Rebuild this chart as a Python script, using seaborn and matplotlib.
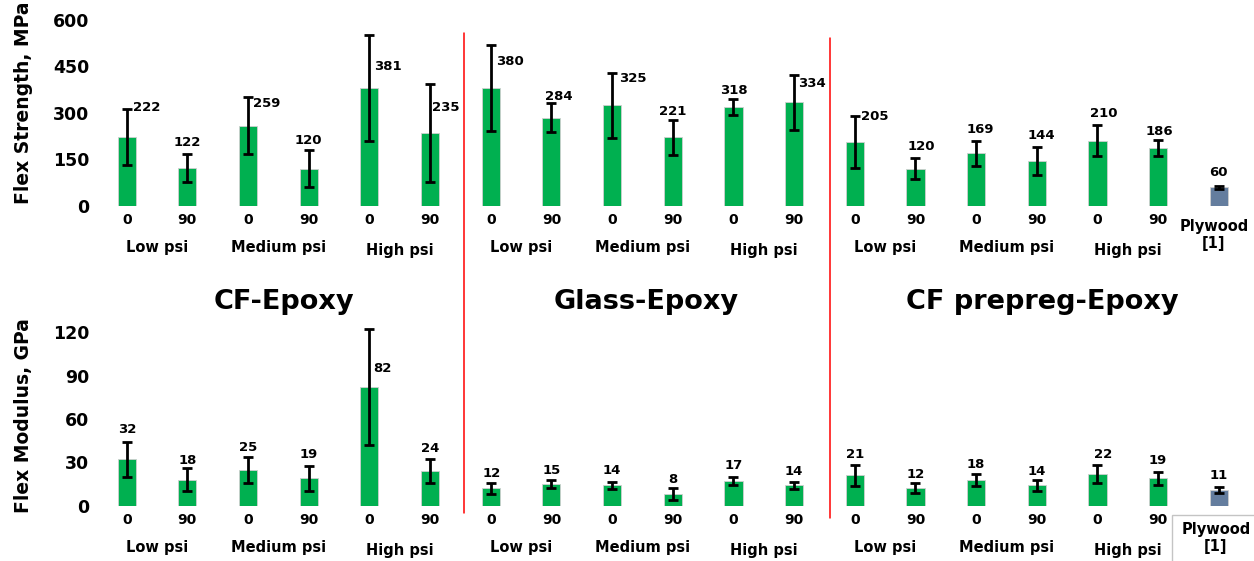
import numpy as np
import pandas as pd
import matplotlib
matplotlib.use("Agg")
import matplotlib.pyplot as plt
import seaborn as sns
from matplotlib.lines import Line2D
from matplotlib.patches import Rectangle

# ---- data -------------------------------------------------------------
systems = ["CF-Epoxy", "Glass-Epoxy", "CF prepreg-Epoxy"]
pressures = ["Low psi", "Medium psi", "High psi"]
angles = ["0", "90"]
reference_name = "Plywood\n[1]"

cf_strength = [222, 122, 259, 120, 381, 235]
cf_strength_sd = [90, 44, 92, 60, 172, 158]
glass_strength = [380, 284, 325, 221, 318, 334]
glass_strength_sd = [140, 47, 105, 56, 26, 88]
prepreg_strength = [205, 120, 169, 144, 210, 186]
prepreg_strength_sd = [84, 35, 41, 46, 51, 25]
plywood_strength = 60
plywood_strength_sd = 5

cf_modulus = [32, 18, 25, 19, 82, 24]
cf_modulus_sd = [12, 8, 9, 8.5, 40, 8]
glass_modulus = [12, 15, 14, 8, 17, 14]
glass_modulus_sd = [4, 2.5, 2.5, 4, 2.7, 2.3]
prepreg_modulus = [21, 12, 18, 14, 22, 19]
prepreg_modulus_sd = [7.4, 3.4, 4.2, 3.6, 6, 4.5]
plywood_modulus = 11
plywood_modulus_sd = 2

# ---- layout / style ---------------------------------------------------
# value-label nudges (pixels, relative to the top of each error bar)
strength_nudge = [(20, 2), (0, 12), (19, -6), (0, 9), (18, -32), (16, -23),
                  (19, -17), (7, 7), (21, -6), (0, 8), (0, 9), (18, -8),
                  (20, 0), (6, 11), (4, 11), (5, 11), (6, 11), (1, 9), (0, 13)]
modulus_nudge = [(1, 13), (0, 8), (0, 9), (0, 11), (13, -39), (0, 11),
                 (1, 9), (0, 10), (0, 11), (0, 9), (0, 12), (0, 11),
                 (0, 10), (0, 9), (0, 9), (0, 9), (6, 11), (0, 11), (0, 11)]
pressure_drop = [0, 0, 3]

GREEN = "#00B050"
SLATE = "#647D9E"
W, H = 1254, 561

sns.set_theme(style="white")
plt.rcParams["font.family"] = ["DejaVu Sans"]
plt.rcParams["font.weight"] = "bold"
plt.rcParams["axes.labelweight"] = "bold"
plt.rcParams["text.color"] = "black"
plt.rcParams["xtick.color"] = "black"
plt.rcParams["ytick.color"] = "black"
plt.rcParams["axes.labelcolor"] = "black"


def fx(px):
    return px / W


def fy(py):
    return 1 - py / H


# ---- tidy table -------------------------------------------------------
slots, kinds, angle_col = [], [], []
for system in systems:
    for pressure in pressures:
        for a in angles:
            slots.append(f"{system} | {pressure} | {a}")
            kinds.append("composite")
            angle_col.append(a)
slots.append("Plywood")
kinds.append("plywood")
angle_col.append("")

df = pd.DataFrame({
    "slot": slots,
    "kind": kinds,
    "angle": angle_col,
    "strength": cf_strength + glass_strength + prepreg_strength + [plywood_strength],
    "strength_sd": cf_strength_sd + glass_strength_sd + prepreg_strength_sd + [plywood_strength_sd],
    "modulus": cf_modulus + glass_modulus + prepreg_modulus + [plywood_modulus],
    "modulus_sd": cf_modulus_sd + glass_modulus_sd + prepreg_modulus_sd + [plywood_modulus_sd],
})
n = len(df)
pos = np.arange(n)

fig = plt.figure(figsize=(W / 100, H / 100), dpi=100)
pitch = 60.67
x_left = 126.7 - pitch / 2
ax_top = fig.add_axes([fx(x_left), fy(205.7), pitch * n / W, 185.7 / H])
ax_bot = fig.add_axes([fx(x_left), fy(505.7), pitch * n / W, 173.4 / H])

panels = [
    (ax_top, "strength", "strength_sd", (0, 600), [0, 150, 300, 450, 600], strength_nudge),
    (ax_bot, "modulus", "modulus_sd", (0, 120), [0, 30, 60, 90, 120], modulus_nudge),
]

for ax, col, sdcol, ylim, yticks, nudges in panels:
    sns.barplot(data=df, x="slot", y=col, hue="kind", order=slots,
                hue_order=["composite", "plywood"],
                palette={"composite": GREEN, "plywood": SLATE},
                saturation=1, dodge=False, width=0.30, errorbar=None,
                legend=False, edgecolor="#cfcfcf", linewidth=0.6, ax=ax)
    eb = ax.errorbar(pos, df[col], yerr=df[sdcol], fmt="none", ecolor="black",
                     elinewidth=2.0, capsize=3.5, capthick=2.0, zorder=3)
    for artist in eb.lines[1] + eb.lines[2]:
        artist.set_clip_on(False)
    ax.set_xlim(-0.5, n - 0.5)
    ax.set_ylim(*ylim)
    ax.set_yticks(yticks)
    ax.set_xticks([])
    ax.set_xlabel("")
    ax.set_ylabel("")
    ax.tick_params(axis="y", length=0, pad=5, labelsize=12.5, labelcolor="black")
    for lbl in ax.get_yticklabels():
        lbl.set_fontweight("bold")
    sns.despine(ax=ax, left=True, bottom=True)
    ax.patch.set_alpha(0)

    # value labels
    for i in range(n):
        v = df[col].iloc[i]
        top = v + df[sdcol].iloc[i]
        dx, dy = nudges[i]
        ax.annotate(f"{v:g}", xy=(i, top), xytext=(dx, dy),
                    textcoords="offset pixels", ha="center", va="center",
                    fontsize=9.5, fontweight="bold", color="black",
                    annotation_clip=False, zorder=4)

    # fibre angle under each composite bar
    for i in range(n - 1):
        ax.annotate(df["angle"].iloc[i], xy=(i, 0), xytext=(0, -14.5),
                    textcoords="offset pixels", ha="center", va="center",
                    fontsize=10, fontweight="bold", annotation_clip=False)

    # pressure group labels
    for g in range(len(systems) * len(pressures)):
        mid = 2 * g + 0.5
        ax.annotate(pressures[g % 3], xy=(mid, 0),
                    xytext=(0, -42 - pressure_drop[g % 3]),
                    textcoords="offset pixels", ha="center", va="center",
                    fontsize=10.5, fontweight="bold", annotation_clip=False)

# reference material label (upper panel)
ax_top.annotate(reference_name, xy=(n - 1, 0), xytext=(-5, -29),
                textcoords="offset pixels", ha="center", va="center",
                multialignment="center", linespacing=1.2,
                fontsize=10.5, fontweight="bold", annotation_clip=False)

# boxed reference label (lower panel)
fig.add_artist(Rectangle((fx(1172), fy(570)), 100 / W, 55 / H,
                         transform=fig.transFigure, facecolor="none",
                         edgecolor="#c4c4c4", linewidth=1.0, zorder=1))
ax_bot.annotate(reference_name, xy=(n - 1, 0), xytext=(-3, -32.5),
                textcoords="offset pixels", ha="center", va="center",
                multialignment="center", linespacing=1.2,
                fontsize=10.5, fontweight="bold", annotation_clip=False,
                zorder=5)

# section titles
for name, cx in zip(systems, [284, 646, 1042]):
    fig.text(fx(cx), fy(309), name, ha="center", va="baseline",
             fontsize=19.5, fontweight="bold")

# section dividers
for xline, y0, y1 in [(464.3, 33.3, 513.3), (830, 38.3, 518.3)]:
    fig.add_artist(Line2D([fx(xline), fx(xline)], [fy(y0), fy(y1)],
                          transform=fig.transFigure, color="red", lw=1.1))

# y-axis titles
fig.text(fx(24), fy(102.5), "Flex Strength, MPa", rotation=90,
         ha="center", va="center", fontsize=13.5, fontweight="bold")
fig.text(fx(24), fy(416), "Flex Modulus, GPa", rotation=90,
         ha="center", va="center", fontsize=13.5, fontweight="bold")

fig.savefig("out.png", dpi=100, facecolor="white")
